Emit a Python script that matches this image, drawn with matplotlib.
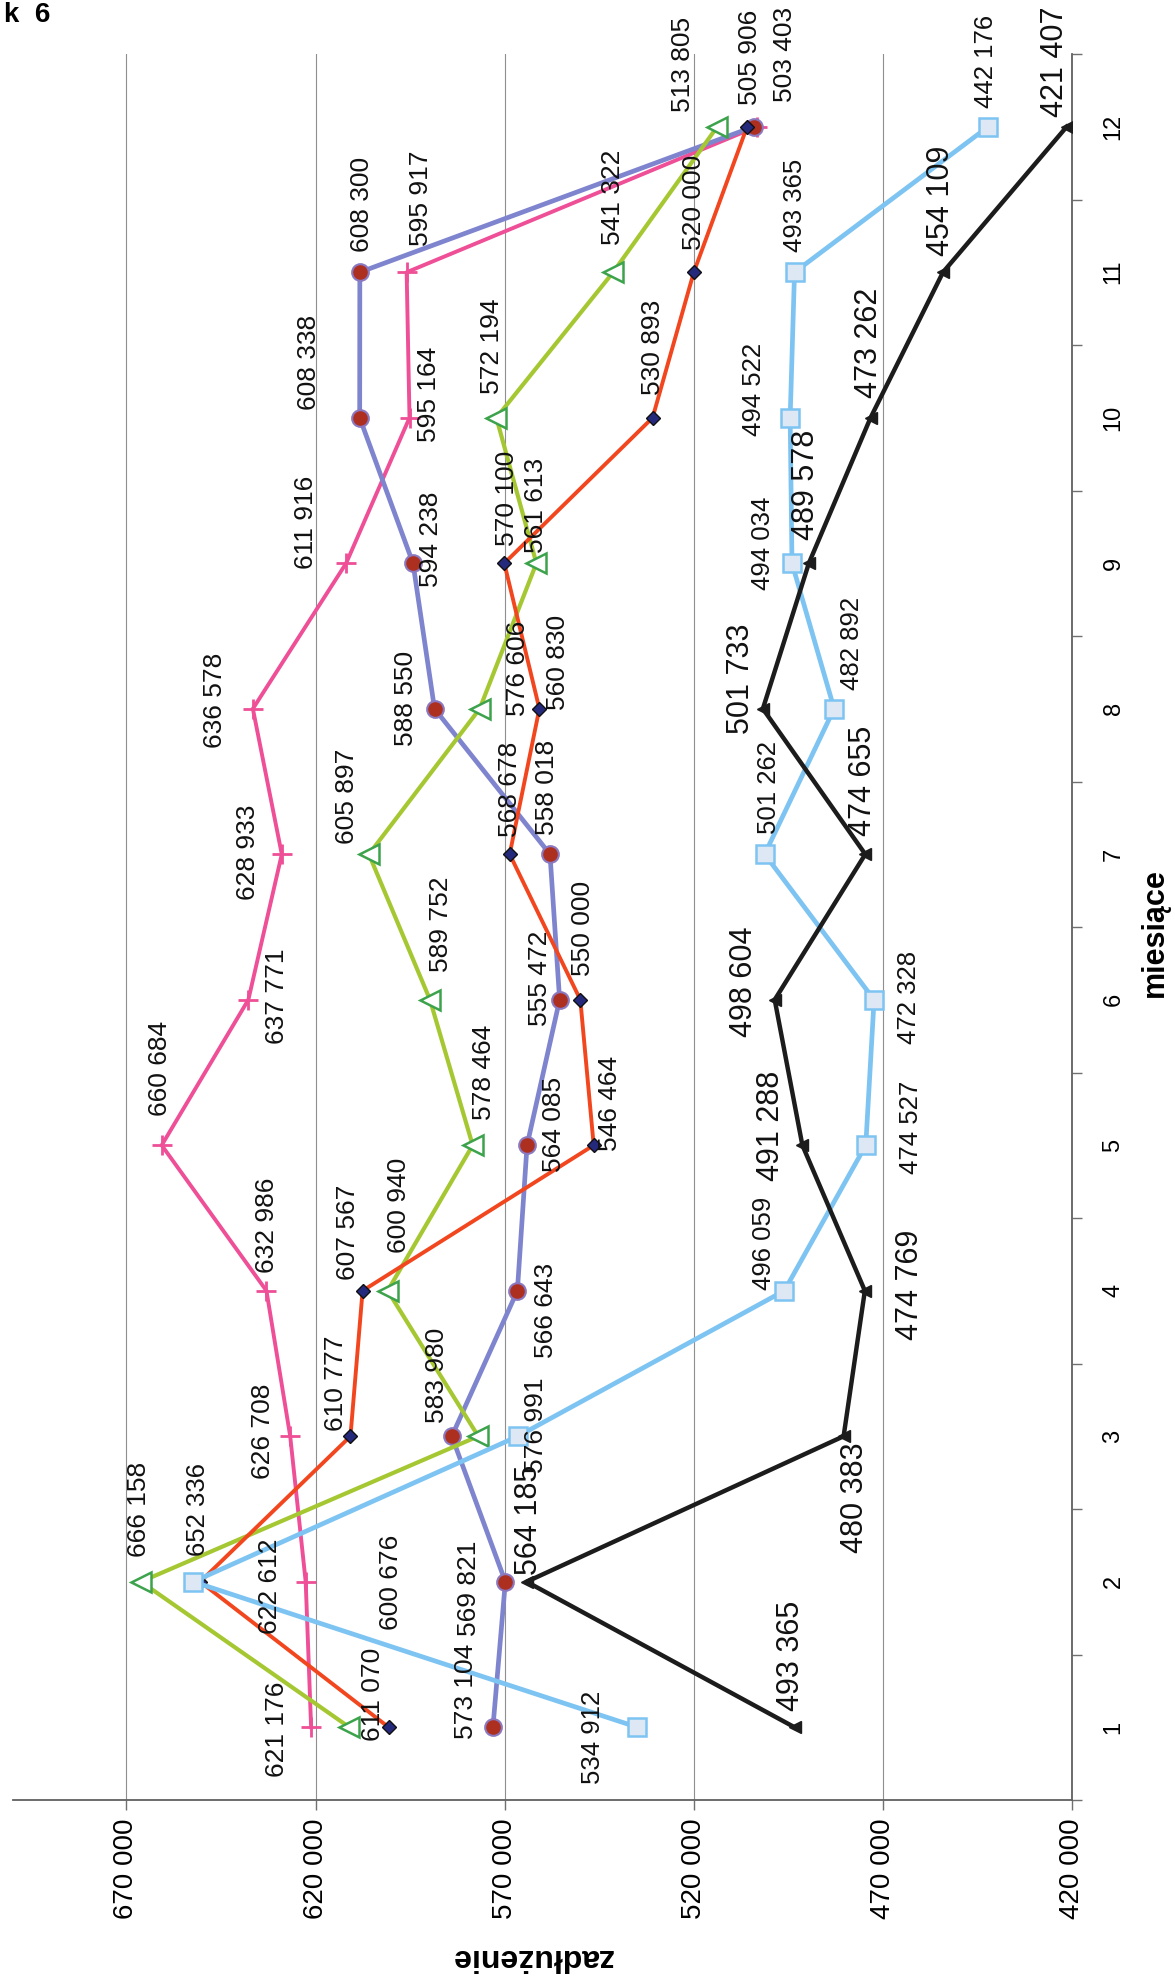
import numpy as np
import matplotlib.pyplot as plt

months = list(range(1, 13))

# monthly debt per series
pink = [621176, 622612, 626708, 632986, 660684, 637771, 628933, 636578, 611916, 595164, 595917, 503403]
purple = [573104, 569821, 583980, 566643, 564085, 555472, 558018, 588550, 594238, 608338, 608300, 504200]
red = [600676, 650500, 610777, 607567, 546464, 550000, 568678, 560830, 570100, 530893, 520000, 505906]
green = [611070, 666158, 576991, 600940, 578464, 589752, 605897, 576606, 561613, 572194, 541322, 513805]
blue = [534912, 652336, 566500, 496059, 474527, 472328, 501262, 482892, 494034, 494522, 493365, 442176]
black = [493365, 564185, 480383, 474769, 491288, 498604, 474655, 501733, 489578, 473262, 454109, 421407]

value_ticks = [420000, 470000, 520000, 570000, 620000, 670000]

# which points carry a printed value
pink_shown = [True] * 12
purple_shown = [True] * 11 + [False]
red_shown = [True, False] + [True] * 10
green_shown = [True] * 12
blue_shown = [True, True, False] + [True] * 9
black_shown = [True] * 12

# label offsets in pixels (right, down) from each point
pink_off = [(-34, 2), (-36, 5), (-27, -5), (1, -65), (-2, -77), (29, -3),
            (-34, -2), (-38, -8), (-40, -41), (19, -23), (14, -74), (28, -72)]
purple_off = [(-27, -36), (-36, 7), (-15, -61), (29, 20), (27, -21), (-20, -21),
              (-3, -67), (-29, -10), (18, -24), (-51, -55), (2, -68), (0, 0)]
red_off = [(2, -145), (0, 0), (-14, -53), (-15, -58), (16, -42), (3, -71),
           (0, -65), (19, -46), (3, -65), (0, -70), (0, -70), (3, -69)]
green_off = [(24, -33), (-2, -72), (58, -11), (11, -85), (11, -73), (11, -76),
             (-22, -58), (38, -40), (0, -58), (-4, -71), (0, -75), (-34, -62)]
blue_off = [(-44, 10), (5, -72), (0, 0), (-20, -47), (45, -18), (35, -2),
            (4, -67), (18, -65), (-29, -20), (-36, -28), (0, -67), (-2, -65)]
black_off = [(-4, -71), (2, -62), (11, 61), (45, -6), (-31, -19), (-31, -18),
             (-2, -73), (-22, -30), (-3, -78), (-2, -75), (-2, -71), (-12, -65)]

sans = ['Liberation Sans', 'DejaVu Sans']


def fmt(v):
    return f"{v:,}".replace(',', ' ')


fig = plt.figure(figsize=(11.75, 19.77), dpi=100)
ax = fig.add_axes([13 / 1175, 1 - 1800 / 1977, (1072 - 13) / 1175, (1800 - 54) / 1977])

ax.set_xlim(700000, 420000)
ax.set_ylim(0.5, 12.5)

ax.set_xticks(value_ticks)
ax.set_xticklabels([fmt(v) for v in value_ticks], rotation=90, fontsize=20, family=sans)
ax.grid(axis='x', color='#8f8f8f', lw=0.8)
ax.set_axisbelow(True)
ax.tick_params(axis='x', direction='out', length=7, width=1, color='#707070', pad=6)

ax.yaxis.tick_right()
ax.set_yticks(months)
ax.set_yticklabels([str(m) for m in months], rotation=90, fontsize=17, family=sans,
                   va='center')
ax.set_yticks(np.arange(0.5, 13, 1), minor=True)
ax.tick_params(axis='y', which='major', length=0, pad=22)
ax.tick_params(axis='y', which='minor', direction='out', length=7, width=1, color='#707070')

for side in ['left', 'top']:
    ax.spines[side].set_visible(False)
for side in ['bottom', 'right']:
    ax.spines[side].set_color('#606060')
    ax.spines[side].set_linewidth(1.3)

series = [
    (pink, pink_shown, pink_off, dict(color='#ee4f97', lw=2.8, marker='+', ms=15, mew=2,
                                       mec='#ee4f97'), 19),
    (purple, purple_shown, purple_off, dict(color='#7f84cf', lw=3.4, marker='o', ms=12,
                                             mfc='#ad2f1f', mec='#8a78c0', mew=1.5), 19),
    (green, green_shown, green_off, dict(color='#a5c832', lw=3.0, marker='<', ms=15,
                                          mfc='white', mec='#3ca34c', mew=1.8), 19),
    (red, red_shown, red_off, dict(color='#f2461f', lw=2.8, marker='D', ms=7.5,
                                    mfc='#24297c', mec='#101010', mew=1), 19),
    (blue, blue_shown, blue_off, dict(color='#7ec4f2', lw=3.4, marker='s', ms=13,
                                       mfc='#dde8f4', mec='#7ec4f2', mew=1.8), 18.5),
    (black, black_shown, black_off, dict(color='#1c1c1c', lw=3.2, marker='<', ms=8,
                                          mfc='#1c1c1c', mec='#1c1c1c'), 22),
]

for values, shown, offsets, style, fsize in series:
    ax.plot(values, months, **style, zorder=3)
    for m, v, s, (dx, dy) in zip(months, values, shown, offsets):
        if not s:
            continue
        ax.annotate(fmt(v), (v, m), xytext=(dx, -dy), textcoords='offset pixels',
                    rotation=90, ha='center', va='center', fontsize=fsize,
                    family=sans, color='#111111', zorder=4)

fig.text(532 / 1175, 1 - 1957 / 1977, 'zadłużenie', rotation=180, ha='center', va='center',
         fontsize=23, fontweight='bold', family=sans)
fig.text(1155 / 1175, 1 - 933 / 1977, 'miesiące', rotation=90, ha='center', va='center',
         fontsize=22, fontweight='bold', family=sans)
fig.text(0.003, 0.999, 'k  6', ha='left', va='top', fontsize=20, fontweight='bold',
         family=sans)

fig.savefig('out.png', dpi=100)
